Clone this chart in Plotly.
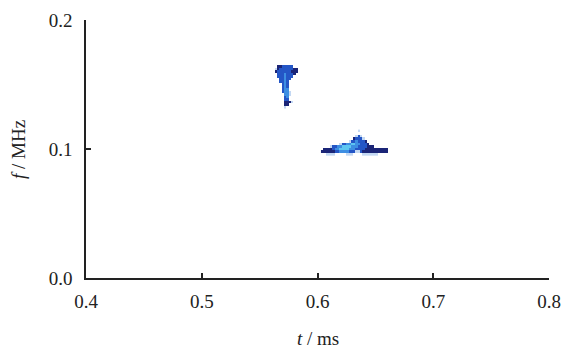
import plotly.graph_objects as go

# ---- axes ----
x_ticks = [0.4, 0.5, 0.6, 0.7, 0.8]
y_ticks = [0.0, 0.1, 0.2]

# ---- blob 1 (spectrogram cells, levels 1..5; '.' = empty) ----
blob1_t = [0.562 + 0.002 * i for i in range(12)]
blob1_f = [0.166, 0.164, 0.162, 0.160, 0.158, 0.156, 0.154, 0.152, 0.150,
           0.148, 0.146, 0.144, 0.142, 0.140, 0.138, 0.136, 0.134, 0.132]
blob1_rows = [
    "............",
    "..2233333...",
    ".1233333322.",
    ".2333333222.",
    "..33343332..",
    "..3334333...",
    "...33433....",
    "...3343.....",
    "....343.....",
    "....343.....",
    "....344.....",
    "....3441....",
    ".....441....",
    ".....34.....",
    ".....33.....",
    ".....2221...",
    ".....22.....",
    ".....1......",
]

# ---- blob 2 ----
blob2_t = [0.604 + 0.002 * i for i in range(30)]
blob2_f = [0.114, 0.112, 0.110, 0.108, 0.106, 0.104, 0.102, 0.100, 0.098, 0.096]
blob2_rows = [
    "................1.............",
    "..............................",
    "...............131............",
    "..............23331...........",
    "............13343332..........",
    "........1334455443332.........",
    "....1334455554443333222.......",
    ".2222344555544433332222222222.",
    "22222233444433311322222222222.",
    "..1111.....111....1111111.....",
]

level_colors = ['#c3d8f3', '#1b2577', '#2456c6', '#3d8ee2', '#5cc6f1']


def rows_to_z(rows, ncols):
    z = []
    for r in rows:
        r = r.ljust(ncols, '.')[:ncols]
        z.append([None if c == '.' else int(c) for c in r])
    return z


cs = []
n = len(level_colors)
for i, c in enumerate(level_colors):
    cs.append([i / n, c])
    cs.append([(i + 1) / n, c])

fig = go.Figure()
for t, f, rows in [(blob1_t, blob1_f, blob1_rows), (blob2_t, blob2_f, blob2_rows)]:
    fig.add_trace(go.Heatmap(
        x=t, y=f, z=rows_to_z(rows, len(t)),
        colorscale=cs, zmin=0.5, zmax=5.5, showscale=False,
        zsmooth=False, hoverinfo='skip'))

font = dict(family="Liberation Serif, Times New Roman, serif", size=19, color="#222")

fig.update_layout(
    width=563, height=358,
    margin=dict(l=86, r=14, t=20, b=80, autoexpand=False),
    paper_bgcolor="white", plot_bgcolor="white",
    font=font,
    showlegend=False,
    annotations=[
        dict(text="<i>t</i> / ms", xref="paper", yref="paper",
             x=0.5, y=-0.2326, showarrow=False, font=font,
             xanchor="center", yanchor="middle"),
        dict(text="<i>f</i> / MHz", xref="paper", yref="paper",
             x=-0.1469, y=0.5, showarrow=False, font=font, textangle=-90,
             xanchor="center", yanchor="middle"),
    ],
)
fig.update_xaxes(
    range=[0.4, 0.8], tickvals=x_ticks, tickformat=".1f",
    ticks="inside", ticklen=5, tickwidth=1.5, tickcolor="#222",
    showline=True, linecolor="#222", linewidth=1.5, mirror=False,
    showgrid=False, zeroline=False, automargin=False,
    ticklabelstandoff=5, ticklabeloverflow="allow",
)
fig.update_yaxes(
    range=[0.0, 0.2], tickvals=y_ticks, tickformat=".1f",
    ticks="inside", ticklen=5, tickwidth=1.5, tickcolor="#222",
    showline=True, linecolor="#222", linewidth=1.5, mirror=False,
    showgrid=False, zeroline=False, automargin=False,
    ticklabelstandoff=8, ticklabeloverflow="allow",
)

# remove the default 8px page margin so the figure fills the window exactly
fig.write_html(
    "out.html",
    config={"displayModeBar": False},
    post_script="document.body.style.margin='0';document.body.style.overflow='hidden';",
)
